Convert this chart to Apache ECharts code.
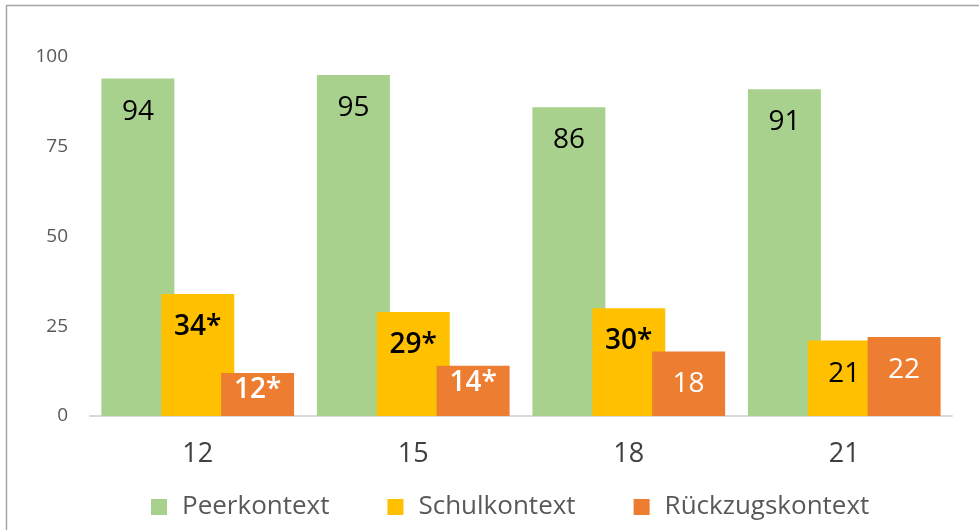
<!DOCTYPE html>
<html>
<head>
<meta charset="utf-8">
<script src="https://cdn.jsdelivr.net/npm/echarts@6/dist/echarts.min.js"></script>
<style>
  html, body { margin: 0; padding: 0; background: #fff; }
  #chart { width: 979px; height: 530px; }
</style>
</head>
<body>
<div id="chart"></div>
<script>
const ages = ['12', '15', '18', '21'];
const seriesNames = ['Peerkontext', 'Schulkontext', 'Rückzugskontext'];
const colors = ['#a9d18e', '#ffc000', '#ed7d31'];
const peer = [94, 95, 86, 91];
const schule = [34, 29, 30, 21];
const rueckzug = [12, 14, 18, 22];
// * = signifikant
const peerSig = [false, false, false, false];
const schuleSig = [true, true, true, false];
const rueckzugSig = [true, true, false, false];
const yTicks = [0, 25, 50, 75, 100];

const font = 'Open Sans';
const chart = echarts.init(document.getElementById('chart'));

function makeData(values, sig) {
  return values.map((v, i) => ({
    value: v,
    sig: sig[i],
    label: {
      distance: v < 16 ? 3 : 19,
      fontWeight: sig[i] ? 600 : 'normal'
    }
  }));
}

function makeSeries(name, values, sig, color, labelColor) {
  return {
    name: name,
    type: 'bar',
    barWidth: 73,
    barGap: '-18%',
    data: makeData(values, sig),
    itemStyle: { color: color },
    label: {
      show: true,
      position: 'insideTop',
      color: labelColor,
      fontFamily: font,
      fontSize: 28,
      formatter: p => p.value + (p.data.sig ? '*' : '')
    }
  };
}

chart.setOption({
  animation: false,
  graphic: [
    { type: 'line', shape: { x1: 6, y1: 5.5, x2: 979, y2: 5.5 }, style: { stroke: '#a6a6a6', lineWidth: 1.5 } },
    { type: 'line', shape: { x1: 6.5, y1: 5, x2: 6.5, y2: 530 }, style: { stroke: '#a6a6a6', lineWidth: 1.5 } }
  ],
  grid: { left: 90, right: 27, top: 57, bottom: 114 },
  legend: {
    data: seriesNames,
    top: 489,
    left: 146,
    icon: 'rect',
    itemWidth: 16,
    itemHeight: 16,
    itemGap: 58,
    textStyle: { fontFamily: font, fontSize: 26, color: '#595959', padding: [0, 0, 0, 10] }
  },
  xAxis: {
    type: 'category',
    data: ages,
    axisLine: { lineStyle: { color: '#d9d9d9', width: 2 } },
    axisTick: { show: false },
    axisLabel: { fontFamily: font, fontSize: 27, color: '#404040', margin: 25 }
  },
  yAxis: {
    type: 'value',
    min: yTicks[0],
    max: yTicks[yTicks.length - 1],
    interval: 25,
    splitLine: { show: false },
    axisLine: { show: false },
    axisTick: { show: false },
    axisLabel: { fontFamily: font, fontSize: 19, color: '#595959', margin: 22 }
  },
  series: [
    makeSeries(seriesNames[0], peer, peerSig, colors[0], '#000'),
    makeSeries(seriesNames[1], schule, schuleSig, colors[1], '#000'),
    makeSeries(seriesNames[2], rueckzug, rueckzugSig, colors[2], '#fff')
  ]
});
</script>
</body>
</html>
